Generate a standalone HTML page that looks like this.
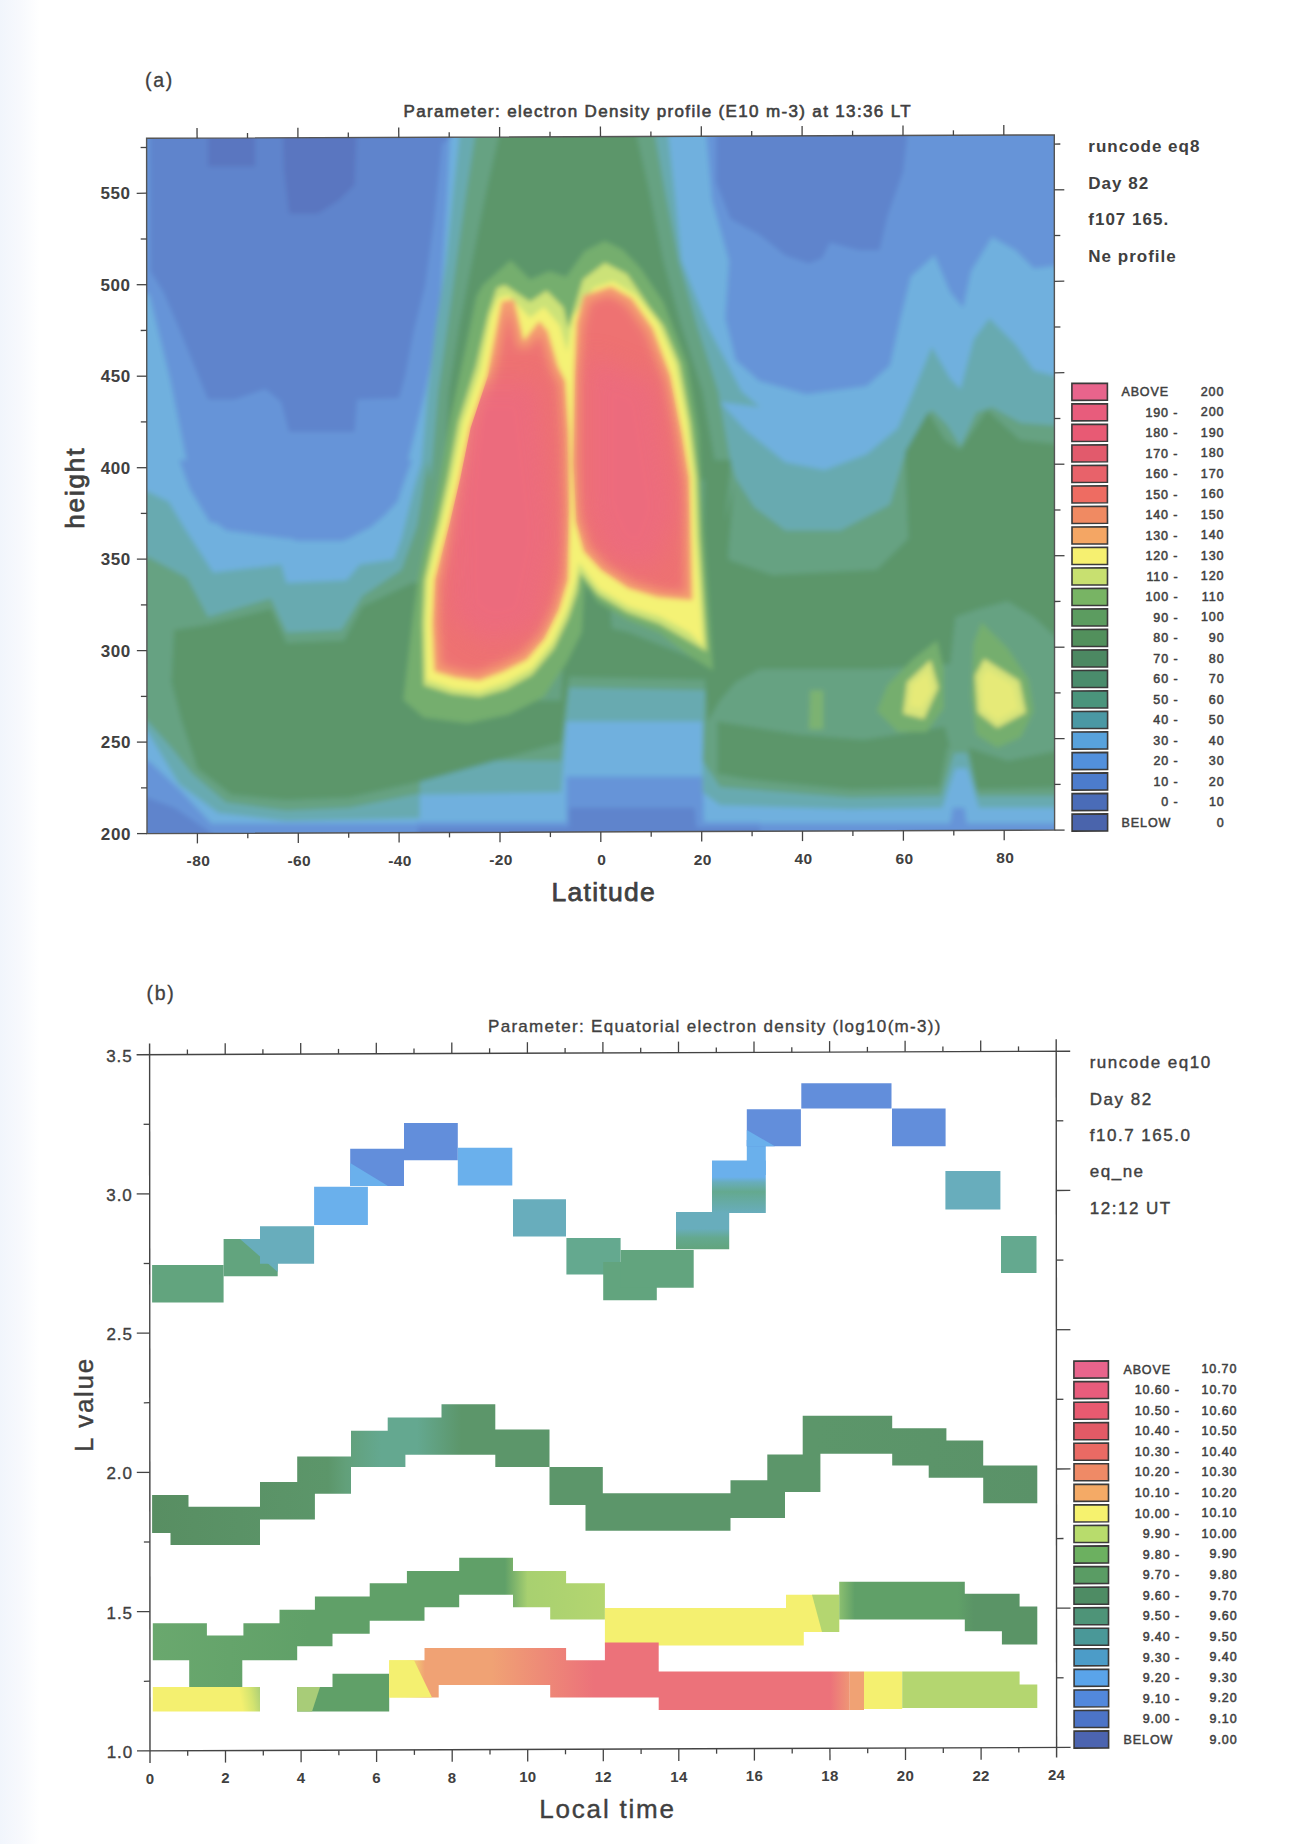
<!DOCTYPE html><html><head><meta charset="utf-8"><style>html,body{margin:0;padding:0;background:#fff;}body{width:1300px;height:1844px;overflow:hidden;}svg{display:block;}text{font-family:"Liberation Sans", sans-serif;}</style></head><body>
<svg width="1300" height="1844" viewBox="0 0 1300 1844">
<defs><linearGradient id="lm" x1="0" y1="0" x2="1" y2="0"><stop offset="0" stop-color="#f1f5fc"/><stop offset="0.5" stop-color="#f7f9fd"/><stop offset="1" stop-color="#ffffff"/></linearGradient></defs>
<rect x="0" y="0" width="1300" height="1844" fill="#ffffff"/>
<rect x="0" y="0" width="40" height="1844" fill="url(#lm)"/>
<defs><clipPath id="ca"><polygon points="146.6,138.3 1054.3,134.9 1054.6,830.1 147,833.6"/></clipPath><clipPath id="cb"><polygon points="149.6,1054.6 1056.2,1051.2 1056.6,1747.4 150,1750.9"/></clipPath></defs>
<g clip-path="url(#ca)">
<defs><filter id="bl" x="-30%" y="-30%" width="160%" height="160%"><feGaussianBlur stdDeviation="12"/></filter><filter id="inner" x="-5%" y="-5%" width="110%" height="110%"><feMorphology operator="erode" radius="5"/><feGaussianBlur stdDeviation="4"/></filter><filter id="soft" x="-2%" y="-2%" width="104%" height="104%"><feGaussianBlur stdDeviation="2.5"/></filter></defs>
<g filter="url(#soft)">
<rect x="130" y="120" width="945" height="730" fill="#70b0de"/>
<polygon points="130,120 462,120 450,137 447,200 443,264 438,329 425,393 412,445 398,501 385,515 371,527 343,541 297,541 278,534 209,522 186,458 170,379 149,294 130,294" fill="#6694d8"/>
<polygon points="179.2,460 189.7,488.8 205.4,514.9 226.3,530.6 286.5,538.5 349.2,538.5 375.4,522.8 398.9,496.6 412,460" fill="#6694d8"/>
<polygon points="705,120 1075,120 1075,265 1054.8,266 1033.8,268.6 1015.5,250.3 992,237.2 971.1,271.2 963.2,307.8 950.2,292.2 934.5,255.5 910.9,276.5 900.5,318.3 890,365.4 866.5,386.3 806.3,394.2 759.2,381.1 735.7,360.2 725.2,318.3 729,261 712,200" fill="#6694d8"/>
<polygon points="126.9,823.5 480,823.5 480,852.3 126.9,852.3" fill="#6694d8"/>
<polygon points="127,755 150,762 180,790 210,822 230,840 127,840" fill="#6694d8"/>
<polygon points="417.4,822.2 760,822.2 760,852.3 417.4,852.3" fill="#6694d8"/>
<polygon points="566.5,776.5 702.5,776.5 705.1,852.3 566.5,852.3" fill="#6694d8"/>
<polygon points="717.4,823.5 1073.1,823.5 1073.1,852.3 717.4,852.3" fill="#6694d8"/>
<polygon points="952.8,807.8 964.5,807.8 971.1,852.3 944.9,852.3" fill="#6694d8"/>
<polygon points="150,120 455,120 450,137 442,144 434,221 425,286 414,330 405,376 399,398 357.1,399.4 354.5,432.1 289.1,432.1 281.2,402 265.5,388.9 234.2,399.4 208,399.4 179.2,328.8 163.5,292.2 150.5,271.2" fill="#5e84cc"/>
<polygon points="716.1,119.5 907,119.5 907,137.8 903.1,171.8 887.4,216.3 879.5,250.3 858.6,250.3 829.8,242.5 822,258.2 808.9,263.4 785.4,255.5 759.2,234.6 730.5,218.9 716.1,182.3" fill="#5e84cc"/>
<polygon points="127,790 175,808 210,832 215,840 127,840" fill="#5e84cc"/>
<polygon points="569.1,807.8 694.6,807.8 698.5,852.3 569.1,852.3" fill="#5e84cc"/>
<polygon points="417.4,827.5 760,827.5 760,852.3 417.4,852.3" fill="#5e84cc"/>
<polygon points="208,119.5 255.1,119.5 255.1,166.6 208,166.6" fill="#5a76c0"/>
<polygon points="282.5,119.5 357.1,119.5 354.5,184.9 338.8,200.6 317.8,213.7 289.1,213.7 283.8,169.2" fill="#5a76c0"/>
<polygon points="459.2,119.5 668.5,119.5 668.5,137.8 675,195.4 681.5,260.8 707.7,326.2 741.7,391.5 760,407.2 720,402 746.2,430.8 785.4,462.2 824.6,470 866.5,454.3 897.8,428.2 913.5,391.5 931.8,347.1 950.2,378.5 960.6,388.9 973.7,339.2 989.4,318.3 1015.5,344.5 1033.8,370.6 1054.8,375.8 1073.1,375.8 1073.1,807.8 978.9,807.8 967.2,768.6 955.4,768.6 942.3,807.8 850.8,809.2 720,805.2 702.5,792.2 702.5,721.5 566.5,721.5 561.2,792.2 420,794.8 419.8,818.3 286.5,820.9 218.5,813.1 179.2,784.3 147.8,732 126.9,729.4 126.9,491.4 147.8,491.4 168.8,501.8 184.5,528 213.2,572.5 281.2,564.6 286.5,582.9 346.6,580.3 359.7,564.6 393.7,559.4 401.5,538.5 414.6,486.2 422.5,460 420,479.9 427.8,391.5 435.7,326.2 446.2,260.8 452.7,195.4 459.2,137.8" fill="#68aab0"/>
<polygon points="474.9,119.5 655.4,119.5 655.4,137.8 665.8,195.4 678.9,260.8 697.2,326.2 718.2,391.5 733.8,479.9 730.5,460 735.7,478.3 754,507.1 785.4,530.6 840.3,530.6 890,504.5 903.1,460 910.9,443.8 931.8,409.8 947.5,425.5 960.6,446.5 976.3,412.5 992,407.2 1020.8,422.9 1054.8,425.5 1073.1,425.5 1073.1,796.1 977.6,796.1 967.2,752.9 954.1,752.9 941,796.1 850.8,797.4 720,786.9 702.5,760.8 705.1,690.2 569.1,687.5 561.2,760.8 420,760.8 419.8,793.5 349.2,807.8 286.5,810.5 226.3,802.6 192.3,773.8 171.4,747.7 147.8,721.5 126.9,718.9 126.9,556.8 147.8,556.8 187.1,577.7 208,616.9 270.8,598.6 286.5,632.6 341.4,630 362.3,596 401.5,569.8 417.2,525.4 427.7,460 430.5,479.9 438.3,391.5 447.5,326.2 456.6,260.8 465.8,195.4 474.9,137.8" fill="#66a282"/>
<polygon points="498.5,119.5 637.1,119.5 637.1,137.8 650.2,195.4 663.2,260.8 681.5,326.2 702.5,391.5 718.2,479.9 443.5,479.9 448.8,391.5 459.2,326.2 472.3,260.8 485.4,195.4 498.5,137.8" fill="#5c966a"/>
<polygon points="174,630 208,624.8 270.8,609.1 286.5,643.1 344,640.5 362.3,606.5 412,582.9 480,582.9 420,695.4 498.5,700.6 561.2,700.6 566.5,569.8 587.4,572.5 587.4,622.2 629.2,632.6 694.6,658.8 707.7,616.9 720.8,538.5 733.8,486.2 727.8,559.4 772.3,575.1 876.9,569.8 908.3,538.5 905,452 928,412 945,440 960,450 987,410 1020,440 1065,445 1073.1,653.5 1033.8,616.9 1007.7,601.2 978.9,609.1 955.4,616.9 950.2,664 876.9,669.2 798.5,669.2 759.2,669.2 735.7,682.3 720,700.6 707.7,721.5 705.1,679.7 569.1,677.1 561.2,742.5 419.8,781.7 349.2,797.4 286.5,800 231.5,794.8 197.5,768.6 181.8,721.5 171.4,682.3" fill="#5c966a"/>
<polygon points="717.4,721.5 798.5,734.6 863.8,739.8 944.9,726.8 950.2,747.7 968.5,747.7 1007.7,760.8 1073.1,747.7 1073.1,786.9 976.3,789.5 968.5,747.7 947.5,747.7 939.7,786.9 850.8,789.5 746.2,779.1 717.4,773.8" fill="#5c966a"/>
<polygon points="705.1,460 731.2,460 723.4,538.5 741.7,606.5 707.7,643.1 702.5,564.6" fill="#5c966a"/>
<polygon points="937.1,640.5 943.6,669.2 943.6,708.5 926.6,732 897.8,732 876.9,711.1 887.4,684.9 913.5,658.8" fill="#74ae6e"/>
<polygon points="981.5,622.2 1007.7,648.3 1028.6,679.7 1033.8,711.1 1020.8,737.2 997.2,747.7 976.3,734.6 971.1,695.4 973.7,643.1" fill="#74ae6e"/>
<polygon points="810.2,690.2 823.3,690.2 823.3,729.4 808.9,729.4" fill="#7cb272"/>
<polygon points="930.5,660.1 938.4,687.5 924,718.9 903.1,713.7 907,682.3" fill="#d8e47a"/>
<polygon points="927.9,671.8 931.8,690.2 921.4,708.5 909.6,705.8 912.2,684.9" fill="#e6ea78"/>
<polygon points="984.2,658.8 1019.5,681 1026,712.4 997.2,728.1 977.6,712.4 975,675.8" fill="#d8e47a"/>
<polygon points="986.8,669.2 1012.9,684.9 1018.2,708.5 997.2,720.2 982.8,708.5 981.5,679.7" fill="#e6ea78"/>
<polygon points="555.4,550.8 608,574.2 613.8,656 555.4,667.7" fill="#5c966a"/>
<polygon points="482.9,285.1 510.7,260.2 530,279.5 549.5,271.3 566.2,276.9 584.6,251.2 604.8,240.9 622.6,249.7 640.7,268.4 663,301.7 686.9,363.7 698.6,433.8 703,521.5 713.2,670.6 689.8,656 659.2,632.6 627,619.5 597.8,601.9 584.6,582.9 581.7,632.6 567.1,661.8 543.7,696.9 508.6,714.5 467.7,723.2 423.8,717.4 403.4,699.9 412.2,623.8 418,580 423.8,550.8 431.2,521.5 439.9,477.7 450.2,419.2 464.8,352 476.5,296.5" fill="#74ae6e"/>
<polygon points="496.9,287.7 505.1,285.1 530,301.7 546.6,290.6 563.3,307.3 568.5,328.6 582.9,279.5 604.8,262.8 627,274 649.2,307.3 663.5,325.7 679.6,363.7 690.4,422.2 697.2,477.7 699.2,536.2 706.8,651.6 689.8,641.4 659.2,623.8 627,612.2 597.8,594.6 580.2,572.7 577.3,591.7 568.5,618 553.9,648.7 532,675 505.7,689.6 479.4,696.9 451.6,694 423.8,685.2 422.4,623.8 424.4,580 430.9,550.8 438.2,521.5 447.8,477.7 458.3,422.2 475.9,366.6 488.2,314" fill="#cce278"/>
<polygon points="498.4,297.9 508.6,295 530,318.1 544,307 559.8,325.7 567.1,352 572.9,316.9 593.7,287.7 613,281.3 635.5,295 657.7,322.8 675.2,363.7 686.9,422.2 693.6,477.7 695.7,536.2 703,645.8 689.8,632.6 660.6,616.5 628.5,606.3 599.2,588.8 578.8,562.5 575.8,580 567.1,609.2 552.5,641.4 532,667.7 505.7,682.3 479.4,691.1 453.1,688.2 426.8,679.4 426.2,623.8 428.2,580 435,550.8 442.3,521.5 452.2,477.7 463.3,422.2 480.8,369.5 491.1,316.9" fill="#f4f274"/>
<polygon points="502.8,302.3 513,300.8 523.2,343.2 539.3,322.8 546.6,331.5 556.8,366.6 564.2,381.2 567.7,433.8 568.8,506.9 567.1,580 558.3,609.2 543.7,638.5 526.2,658.9 502.8,670.6 479.4,679.4 456,676.5 435.5,670.6 433.5,623.8 435.5,580 442.8,550.8 450.2,521.5 460.4,477.7 470.6,428 488.2,375.4 496.9,331.5" fill="#f4a070" stroke="#f4a070" stroke-width="2.5" stroke-linejoin="round"/>
<polygon points="584.6,296.5 610.9,287.7 631.4,299.4 651.8,328.6 669.4,375.4 681.1,433.8 688.4,477.7 689.8,536.2 691.3,599 657.7,596.1 628.5,587.3 602.2,569.8 584.6,550.8 576.4,521.5 573.5,463.1 575.3,375.4 577.6,322.8" fill="#f4a070" stroke="#f4a070" stroke-width="2.5" stroke-linejoin="round"/>
<g filter="url(#inner)">
<polygon points="502.8,302.3 513,300.8 523.2,343.2 539.3,322.8 546.6,331.5 556.8,366.6 564.2,381.2 567.7,433.8 568.8,506.9 567.1,580 558.3,609.2 543.7,638.5 526.2,658.9 502.8,670.6 479.4,679.4 456,676.5 435.5,670.6 433.5,623.8 435.5,580 442.8,550.8 450.2,521.5 460.4,477.7 470.6,428 488.2,375.4 496.9,331.5" fill="#ee7272"/>
<polygon points="584.6,296.5 610.9,287.7 631.4,299.4 651.8,328.6 669.4,375.4 681.1,433.8 688.4,477.7 689.8,536.2 691.3,599 657.7,596.1 628.5,587.3 602.2,569.8 584.6,550.8 576.4,521.5 573.5,463.1 575.3,375.4 577.6,322.8" fill="#ee7272"/>
</g>
</g>
<clipPath id="lobes"><polygon points="502.8,302.3 513.0,300.8 523.2,343.2 539.3,322.8 546.6,331.5 556.8,366.6 564.2,381.2 567.7,433.8 568.8,506.9 567.1,580.0 558.3,609.2 543.7,638.5 526.2,658.9 502.8,670.6 479.4,679.4 456.0,676.5 435.5,670.6 433.5,623.8 435.5,580.0 442.8,550.8 450.2,521.5 460.4,477.7 470.6,428.0 488.2,375.4 496.9,331.5"/><polygon points="584.6,296.5 610.9,287.7 631.4,299.4 651.8,328.6 669.4,375.4 681.1,433.8 688.4,477.7 689.8,536.2 691.3,599.0 657.7,596.1 628.5,587.3 602.2,569.8 584.6,550.8 576.4,521.5 573.5,463.1 575.3,375.4 577.6,322.8"/></clipPath>
<g clip-path="url(#lobes)">
<polygon points="459.2,381.5 537.7,381.5 556,538.5 537.7,630 485.4,643.1 451.4,616.9 448.8,512.3" fill="#ec6a80" filter="url(#bl)" opacity="0.8"/>
<polygon points="587.4,355.4 655.4,381.5 676.3,512.3 655.4,569.8 608.3,559.4 587.4,512.3" fill="#ec6a80" filter="url(#bl)" opacity="0.8"/>
</g>
</g>
<polygon points="146.6,138.3 1054.3,134.9 1054.6,830.1 147,833.6" fill="none" stroke="#555" stroke-width="1.4"/>
<line x1="137" y1="833.6" x2="147" y2="833.6" stroke="#444" stroke-width="1.3"/>
<line x1="1054.6" y1="830.1" x2="1064.6" y2="830.1" stroke="#444" stroke-width="1.3"/>
<text x="131" y="839.6" font-size="17" text-anchor="end" font-weight="bold" letter-spacing="0.6" fill="#404040">200</text>
<line x1="141" y1="787.9" x2="147" y2="787.8" stroke="#444" stroke-width="1.3"/>
<line x1="1054.6" y1="784.4" x2="1060.6" y2="784.4" stroke="#444" stroke-width="1.3"/>
<line x1="136.9" y1="742.1" x2="146.9" y2="742.1" stroke="#444" stroke-width="1.3"/>
<line x1="1054.6" y1="738.7" x2="1064.6" y2="738.6" stroke="#444" stroke-width="1.3"/>
<text x="131" y="748.2" font-size="17" text-anchor="end" font-weight="bold" letter-spacing="0.6" fill="#404040">250</text>
<line x1="140.9" y1="696.4" x2="146.9" y2="696.4" stroke="#444" stroke-width="1.3"/>
<line x1="1054.6" y1="692.9" x2="1060.6" y2="692.9" stroke="#444" stroke-width="1.3"/>
<line x1="136.9" y1="650.7" x2="146.9" y2="650.6" stroke="#444" stroke-width="1.3"/>
<line x1="1054.5" y1="647.2" x2="1064.5" y2="647.2" stroke="#444" stroke-width="1.3"/>
<text x="130.9" y="656.7" font-size="17" text-anchor="end" font-weight="bold" letter-spacing="0.6" fill="#404040">300</text>
<line x1="140.9" y1="604.9" x2="146.9" y2="604.9" stroke="#444" stroke-width="1.3"/>
<line x1="1054.5" y1="601.5" x2="1060.5" y2="601.4" stroke="#444" stroke-width="1.3"/>
<line x1="136.9" y1="559.2" x2="146.8" y2="559.1" stroke="#444" stroke-width="1.3"/>
<line x1="1054.5" y1="555.7" x2="1064.5" y2="555.7" stroke="#444" stroke-width="1.3"/>
<text x="130.9" y="565.2" font-size="17" text-anchor="end" font-weight="bold" letter-spacing="0.6" fill="#404040">350</text>
<line x1="140.8" y1="513.4" x2="146.8" y2="513.4" stroke="#444" stroke-width="1.3"/>
<line x1="1054.5" y1="510" x2="1060.5" y2="510" stroke="#444" stroke-width="1.3"/>
<line x1="136.8" y1="467.7" x2="146.8" y2="467.7" stroke="#444" stroke-width="1.3"/>
<line x1="1054.4" y1="464.2" x2="1064.4" y2="464.2" stroke="#444" stroke-width="1.3"/>
<text x="130.8" y="473.7" font-size="17" text-anchor="end" font-weight="bold" letter-spacing="0.6" fill="#404040">400</text>
<line x1="140.8" y1="421.9" x2="146.8" y2="421.9" stroke="#444" stroke-width="1.3"/>
<line x1="1054.4" y1="418.5" x2="1060.4" y2="418.5" stroke="#444" stroke-width="1.3"/>
<line x1="136.8" y1="376.2" x2="146.8" y2="376.2" stroke="#444" stroke-width="1.3"/>
<line x1="1054.4" y1="372.8" x2="1064.4" y2="372.7" stroke="#444" stroke-width="1.3"/>
<text x="130.8" y="382.2" font-size="17" text-anchor="end" font-weight="bold" letter-spacing="0.6" fill="#404040">450</text>
<line x1="140.7" y1="330.5" x2="146.7" y2="330.4" stroke="#444" stroke-width="1.3"/>
<line x1="1054.4" y1="327" x2="1060.4" y2="327" stroke="#444" stroke-width="1.3"/>
<line x1="136.7" y1="284.7" x2="146.7" y2="284.7" stroke="#444" stroke-width="1.3"/>
<line x1="1054.3" y1="281.3" x2="1064.3" y2="281.2" stroke="#444" stroke-width="1.3"/>
<text x="130.7" y="290.8" font-size="17" text-anchor="end" font-weight="bold" letter-spacing="0.6" fill="#404040">500</text>
<line x1="140.7" y1="239" x2="146.7" y2="239" stroke="#444" stroke-width="1.3"/>
<line x1="1054.3" y1="235.5" x2="1060.3" y2="235.5" stroke="#444" stroke-width="1.3"/>
<line x1="136.7" y1="193.3" x2="146.7" y2="193.2" stroke="#444" stroke-width="1.3"/>
<line x1="1054.3" y1="189.8" x2="1064.3" y2="189.8" stroke="#444" stroke-width="1.3"/>
<text x="130.7" y="199.3" font-size="17" text-anchor="end" font-weight="bold" letter-spacing="0.6" fill="#404040">550</text>
<line x1="140.6" y1="147.5" x2="146.6" y2="147.5" stroke="#444" stroke-width="1.3"/>
<line x1="1054.3" y1="144.1" x2="1060.3" y2="144" stroke="#444" stroke-width="1.3"/>
<line x1="197" y1="128.1" x2="197.1" y2="138.2" stroke="#444" stroke-width="1.3"/>
<line x1="197.4" y1="833.4" x2="197.4" y2="843.4" stroke="#444" stroke-width="1.3"/>
<text x="198.4" y="866.4" font-size="15.5" text-anchor="middle" font-weight="bold" letter-spacing="0.4" fill="#404040">-80</text>
<line x1="247.5" y1="133" x2="247.5" y2="138" stroke="#444" stroke-width="1.3"/>
<line x1="247.8" y1="833.2" x2="247.8" y2="838.2" stroke="#444" stroke-width="1.3"/>
<line x1="297.9" y1="127.8" x2="297.9" y2="137.8" stroke="#444" stroke-width="1.3"/>
<line x1="298.3" y1="833" x2="298.3" y2="843" stroke="#444" stroke-width="1.3"/>
<text x="299.3" y="866" font-size="15.5" text-anchor="middle" font-weight="bold" letter-spacing="0.4" fill="#404040">-60</text>
<line x1="348.3" y1="132.6" x2="348.3" y2="137.6" stroke="#444" stroke-width="1.3"/>
<line x1="348.7" y1="832.8" x2="348.7" y2="837.8" stroke="#444" stroke-width="1.3"/>
<line x1="398.7" y1="127.4" x2="398.8" y2="137.4" stroke="#444" stroke-width="1.3"/>
<line x1="399.1" y1="832.6" x2="399.1" y2="842.6" stroke="#444" stroke-width="1.3"/>
<text x="400.1" y="865.6" font-size="15.5" text-anchor="middle" font-weight="bold" letter-spacing="0.4" fill="#404040">-40</text>
<line x1="449.2" y1="132.2" x2="449.2" y2="137.2" stroke="#444" stroke-width="1.3"/>
<line x1="449.5" y1="832.4" x2="449.5" y2="837.4" stroke="#444" stroke-width="1.3"/>
<line x1="499.6" y1="127" x2="499.6" y2="137" stroke="#444" stroke-width="1.3"/>
<line x1="500" y1="832.2" x2="500" y2="842.2" stroke="#444" stroke-width="1.3"/>
<text x="501" y="865.2" font-size="15.5" text-anchor="middle" font-weight="bold" letter-spacing="0.4" fill="#404040">-20</text>
<line x1="550" y1="131.8" x2="550" y2="136.8" stroke="#444" stroke-width="1.3"/>
<line x1="550.4" y1="832" x2="550.4" y2="837.1" stroke="#444" stroke-width="1.3"/>
<line x1="600.4" y1="126.6" x2="600.5" y2="136.6" stroke="#444" stroke-width="1.3"/>
<line x1="600.8" y1="831.9" x2="600.8" y2="841.9" stroke="#444" stroke-width="1.3"/>
<text x="601.8" y="864.9" font-size="15.5" text-anchor="middle" font-weight="bold" letter-spacing="0.4" fill="#404040">0</text>
<line x1="650.9" y1="131.4" x2="650.9" y2="136.4" stroke="#444" stroke-width="1.3"/>
<line x1="651.2" y1="831.7" x2="651.2" y2="836.7" stroke="#444" stroke-width="1.3"/>
<line x1="701.3" y1="126.2" x2="701.3" y2="136.2" stroke="#444" stroke-width="1.3"/>
<line x1="701.7" y1="831.5" x2="701.7" y2="841.5" stroke="#444" stroke-width="1.3"/>
<text x="702.7" y="864.5" font-size="15.5" text-anchor="middle" font-weight="bold" letter-spacing="0.4" fill="#404040">20</text>
<line x1="751.7" y1="131.1" x2="751.7" y2="136.1" stroke="#444" stroke-width="1.3"/>
<line x1="752.1" y1="831.3" x2="752.1" y2="836.3" stroke="#444" stroke-width="1.3"/>
<line x1="802.1" y1="125.9" x2="802.1" y2="135.9" stroke="#444" stroke-width="1.3"/>
<line x1="802.5" y1="831.1" x2="802.5" y2="841.1" stroke="#444" stroke-width="1.3"/>
<text x="803.5" y="864.1" font-size="15.5" text-anchor="middle" font-weight="bold" letter-spacing="0.4" fill="#404040">40</text>
<line x1="852.6" y1="130.7" x2="852.6" y2="135.7" stroke="#444" stroke-width="1.3"/>
<line x1="852.9" y1="830.9" x2="852.9" y2="835.9" stroke="#444" stroke-width="1.3"/>
<line x1="903" y1="125.5" x2="903" y2="135.5" stroke="#444" stroke-width="1.3"/>
<line x1="903.4" y1="830.7" x2="903.4" y2="840.7" stroke="#444" stroke-width="1.3"/>
<text x="904.4" y="863.7" font-size="15.5" text-anchor="middle" font-weight="bold" letter-spacing="0.4" fill="#404040">60</text>
<line x1="953.4" y1="130.3" x2="953.4" y2="135.3" stroke="#444" stroke-width="1.3"/>
<line x1="953.8" y1="830.5" x2="953.8" y2="835.5" stroke="#444" stroke-width="1.3"/>
<line x1="1003.8" y1="125.1" x2="1003.8" y2="135.1" stroke="#444" stroke-width="1.3"/>
<line x1="1004.2" y1="830.3" x2="1004.2" y2="840.3" stroke="#444" stroke-width="1.3"/>
<text x="1005.2" y="863.3" font-size="15.5" text-anchor="middle" font-weight="bold" letter-spacing="0.4" fill="#404040">80</text>
<text x="403.5" y="116.9" font-size="17" text-anchor="start" font-weight="normal" letter-spacing="1.35" fill="#404040" stroke="#404040" stroke-width="0.6">Parameter: electron Density profile (E10 m-3) at 13:36 LT</text>
<text x="145.1" y="86.8" font-size="19.5" text-anchor="start" font-weight="normal" letter-spacing="1.6" fill="#404040" stroke="#404040" stroke-width="0.3">(a)</text>
<text x="551.4" y="900.6" font-size="26.5" text-anchor="start" font-weight="normal" letter-spacing="1.3" fill="#404040" stroke="#404040" stroke-width="0.75">Latitude</text>
<text x="83.8" y="487.7" font-size="26" text-anchor="middle" font-weight="normal" letter-spacing="1.85" fill="#404040" transform="rotate(-90 83.8 487.7)" stroke="#404040" stroke-width="0.75">height</text>
<text x="1088.3" y="152.3" font-size="17" text-anchor="start" font-weight="bold" letter-spacing="1.0" fill="#404040">runcode eq8</text>
<text x="1088.3" y="188.7" font-size="17" text-anchor="start" font-weight="bold" letter-spacing="1.0" fill="#404040">Day 82</text>
<text x="1088.3" y="225.1" font-size="17" text-anchor="start" font-weight="bold" letter-spacing="1.0" fill="#404040">f107 165.</text>
<text x="1088.3" y="261.5" font-size="17" text-anchor="start" font-weight="bold" letter-spacing="1.0" fill="#404040">Ne profile</text>
<polygon points="1071.9,383.4 1107.4,383.3 1107.4,400.3 1071.9,400.4" fill="#e8648c" stroke="#3a3a3a" stroke-width="1.6"/>
<text x="1121.4" y="396.3" font-size="12.5" text-anchor="start" font-weight="normal" letter-spacing="0.9" fill="#404040" stroke="#404040" stroke-width="0.5">ABOVE</text>
<text x="1224.3" y="395.9" font-size="12.5" text-anchor="end" font-weight="normal" letter-spacing="0.9" fill="#404040" stroke="#404040" stroke-width="0.5">200</text>
<polygon points="1071.9,403.9 1107.4,403.8 1107.4,420.8 1071.9,420.9" fill="#e85c7c" stroke="#3a3a3a" stroke-width="1.6"/>
<text x="1178.4" y="416.5" font-size="12.5" text-anchor="end" font-weight="normal" letter-spacing="0.9" fill="#404040" stroke="#404040" stroke-width="0.5">190 -</text>
<text x="1224.4" y="416.4" font-size="12.5" text-anchor="end" font-weight="normal" letter-spacing="0.9" fill="#404040" stroke="#404040" stroke-width="0.5">200</text>
<polygon points="1071.9,424.4 1107.4,424.3 1107.4,441.3 1071.9,441.5" fill="#e85a74" stroke="#3a3a3a" stroke-width="1.6"/>
<text x="1178.4" y="437.1" font-size="12.5" text-anchor="end" font-weight="normal" letter-spacing="0.9" fill="#404040" stroke="#404040" stroke-width="0.5">180 -</text>
<text x="1224.4" y="436.9" font-size="12.5" text-anchor="end" font-weight="normal" letter-spacing="0.9" fill="#404040" stroke="#404040" stroke-width="0.5">190</text>
<polygon points="1071.9,445 1107.4,444.8 1107.4,461.8 1071.9,462" fill="#e25a6c" stroke="#3a3a3a" stroke-width="1.6"/>
<text x="1178.4" y="457.6" font-size="12.5" text-anchor="end" font-weight="normal" letter-spacing="0.9" fill="#404040" stroke="#404040" stroke-width="0.5">170 -</text>
<text x="1224.4" y="457.4" font-size="12.5" text-anchor="end" font-weight="normal" letter-spacing="0.9" fill="#404040" stroke="#404040" stroke-width="0.5">180</text>
<polygon points="1071.9,465.5 1107.4,465.3 1107.4,482.3 1071.9,482.5" fill="#e8626a" stroke="#3a3a3a" stroke-width="1.6"/>
<text x="1178.4" y="478.1" font-size="12.5" text-anchor="end" font-weight="normal" letter-spacing="0.9" fill="#404040" stroke="#404040" stroke-width="0.5">160 -</text>
<text x="1224.4" y="477.9" font-size="12.5" text-anchor="end" font-weight="normal" letter-spacing="0.9" fill="#404040" stroke="#404040" stroke-width="0.5">170</text>
<polygon points="1071.9,486 1107.4,485.8 1107.4,502.8 1072,503" fill="#ee6c62" stroke="#3a3a3a" stroke-width="1.6"/>
<text x="1178.4" y="498.6" font-size="12.5" text-anchor="end" font-weight="normal" letter-spacing="0.9" fill="#404040" stroke="#404040" stroke-width="0.5">150 -</text>
<text x="1224.4" y="498.4" font-size="12.5" text-anchor="end" font-weight="normal" letter-spacing="0.9" fill="#404040" stroke="#404040" stroke-width="0.5">160</text>
<polygon points="1072,506.5 1107.4,506.3 1107.5,523.3 1072,523.5" fill="#f08a62" stroke="#3a3a3a" stroke-width="1.6"/>
<text x="1178.4" y="519.1" font-size="12.5" text-anchor="end" font-weight="normal" letter-spacing="0.9" fill="#404040" stroke="#404040" stroke-width="0.5">140 -</text>
<text x="1224.4" y="518.9" font-size="12.5" text-anchor="end" font-weight="normal" letter-spacing="0.9" fill="#404040" stroke="#404040" stroke-width="0.5">150</text>
<polygon points="1072,527 1107.5,526.8 1107.5,543.9 1072,544" fill="#f4a664" stroke="#3a3a3a" stroke-width="1.6"/>
<text x="1178.4" y="539.6" font-size="12.5" text-anchor="end" font-weight="normal" letter-spacing="0.9" fill="#404040" stroke="#404040" stroke-width="0.5">130 -</text>
<text x="1224.4" y="539.4" font-size="12.5" text-anchor="end" font-weight="normal" letter-spacing="0.9" fill="#404040" stroke="#404040" stroke-width="0.5">140</text>
<polygon points="1072,547.5 1107.5,547.4 1107.5,564.4 1072,564.5" fill="#f6f070" stroke="#3a3a3a" stroke-width="1.6"/>
<text x="1178.4" y="560.1" font-size="12.5" text-anchor="end" font-weight="normal" letter-spacing="0.9" fill="#404040" stroke="#404040" stroke-width="0.5">120 -</text>
<text x="1224.4" y="559.9" font-size="12.5" text-anchor="end" font-weight="normal" letter-spacing="0.9" fill="#404040" stroke="#404040" stroke-width="0.5">130</text>
<polygon points="1072,568 1107.5,567.9 1107.5,584.9 1072,585" fill="#c8e070" stroke="#3a3a3a" stroke-width="1.6"/>
<text x="1178.5" y="580.6" font-size="12.5" text-anchor="end" font-weight="normal" letter-spacing="0.9" fill="#404040" stroke="#404040" stroke-width="0.5">110 -</text>
<text x="1224.4" y="580.4" font-size="12.5" text-anchor="end" font-weight="normal" letter-spacing="0.9" fill="#404040" stroke="#404040" stroke-width="0.5">120</text>
<polygon points="1072,588.5 1107.5,588.4 1107.5,605.4 1072,605.5" fill="#78b464" stroke="#3a3a3a" stroke-width="1.6"/>
<text x="1178.5" y="601.1" font-size="12.5" text-anchor="end" font-weight="normal" letter-spacing="0.9" fill="#404040" stroke="#404040" stroke-width="0.5">100 -</text>
<text x="1224.5" y="600.9" font-size="12.5" text-anchor="end" font-weight="normal" letter-spacing="0.9" fill="#404040" stroke="#404040" stroke-width="0.5">110</text>
<polygon points="1072,609 1107.5,608.9 1107.5,625.9 1072,626" fill="#5c9c60" stroke="#3a3a3a" stroke-width="1.6"/>
<text x="1178.5" y="621.6" font-size="12.5" text-anchor="end" font-weight="normal" letter-spacing="0.9" fill="#404040" stroke="#404040" stroke-width="0.5">90 -</text>
<text x="1224.5" y="621.4" font-size="12.5" text-anchor="end" font-weight="normal" letter-spacing="0.9" fill="#404040" stroke="#404040" stroke-width="0.5">100</text>
<polygon points="1072,629.5 1107.5,629.4 1107.5,646.4 1072,646.5" fill="#52905c" stroke="#3a3a3a" stroke-width="1.6"/>
<text x="1178.5" y="642.1" font-size="12.5" text-anchor="end" font-weight="normal" letter-spacing="0.9" fill="#404040" stroke="#404040" stroke-width="0.5">80 -</text>
<text x="1224.5" y="641.9" font-size="12.5" text-anchor="end" font-weight="normal" letter-spacing="0.9" fill="#404040" stroke="#404040" stroke-width="0.5">90</text>
<polygon points="1072,650 1107.5,649.9 1107.5,666.9 1072,667" fill="#4c8862" stroke="#3a3a3a" stroke-width="1.6"/>
<text x="1178.5" y="662.6" font-size="12.5" text-anchor="end" font-weight="normal" letter-spacing="0.9" fill="#404040" stroke="#404040" stroke-width="0.5">70 -</text>
<text x="1224.5" y="662.5" font-size="12.5" text-anchor="end" font-weight="normal" letter-spacing="0.9" fill="#404040" stroke="#404040" stroke-width="0.5">80</text>
<polygon points="1072,670.5 1107.5,670.4 1107.5,687.4 1072.1,687.5" fill="#4a8c6c" stroke="#3a3a3a" stroke-width="1.6"/>
<text x="1178.5" y="683.1" font-size="12.5" text-anchor="end" font-weight="normal" letter-spacing="0.9" fill="#404040" stroke="#404040" stroke-width="0.5">60 -</text>
<text x="1224.5" y="683" font-size="12.5" text-anchor="end" font-weight="normal" letter-spacing="0.9" fill="#404040" stroke="#404040" stroke-width="0.5">70</text>
<polygon points="1072.1,691 1107.5,690.9 1107.6,707.9 1072.1,708" fill="#4a947c" stroke="#3a3a3a" stroke-width="1.6"/>
<text x="1178.5" y="703.6" font-size="12.5" text-anchor="end" font-weight="normal" letter-spacing="0.9" fill="#404040" stroke="#404040" stroke-width="0.5">50 -</text>
<text x="1224.5" y="703.5" font-size="12.5" text-anchor="end" font-weight="normal" letter-spacing="0.9" fill="#404040" stroke="#404040" stroke-width="0.5">60</text>
<polygon points="1072.1,711.5 1107.6,711.4 1107.6,728.4 1072.1,728.5" fill="#4a98a4" stroke="#3a3a3a" stroke-width="1.6"/>
<text x="1178.5" y="724.1" font-size="12.5" text-anchor="end" font-weight="normal" letter-spacing="0.9" fill="#404040" stroke="#404040" stroke-width="0.5">40 -</text>
<text x="1224.5" y="724" font-size="12.5" text-anchor="end" font-weight="normal" letter-spacing="0.9" fill="#404040" stroke="#404040" stroke-width="0.5">50</text>
<polygon points="1072.1,732 1107.6,731.9 1107.6,748.9 1072.1,749.1" fill="#58a2dc" stroke="#3a3a3a" stroke-width="1.6"/>
<text x="1178.5" y="744.7" font-size="12.5" text-anchor="end" font-weight="normal" letter-spacing="0.9" fill="#404040" stroke="#404040" stroke-width="0.5">30 -</text>
<text x="1224.5" y="744.5" font-size="12.5" text-anchor="end" font-weight="normal" letter-spacing="0.9" fill="#404040" stroke="#404040" stroke-width="0.5">40</text>
<polygon points="1072.1,752.6 1107.6,752.4 1107.6,769.4 1072.1,769.6" fill="#5290dc" stroke="#3a3a3a" stroke-width="1.6"/>
<text x="1178.6" y="765.2" font-size="12.5" text-anchor="end" font-weight="normal" letter-spacing="0.9" fill="#404040" stroke="#404040" stroke-width="0.5">20 -</text>
<text x="1224.5" y="765" font-size="12.5" text-anchor="end" font-weight="normal" letter-spacing="0.9" fill="#404040" stroke="#404040" stroke-width="0.5">30</text>
<polygon points="1072.1,773.1 1107.6,772.9 1107.6,789.9 1072.1,790.1" fill="#4c7ccc" stroke="#3a3a3a" stroke-width="1.6"/>
<text x="1178.6" y="785.7" font-size="12.5" text-anchor="end" font-weight="normal" letter-spacing="0.9" fill="#404040" stroke="#404040" stroke-width="0.5">10 -</text>
<text x="1224.5" y="785.5" font-size="12.5" text-anchor="end" font-weight="normal" letter-spacing="0.9" fill="#404040" stroke="#404040" stroke-width="0.5">20</text>
<polygon points="1072.1,793.6 1107.6,793.4 1107.6,810.4 1072.1,810.6" fill="#4a6cb8" stroke="#3a3a3a" stroke-width="1.6"/>
<text x="1178.6" y="806.2" font-size="12.5" text-anchor="end" font-weight="normal" letter-spacing="0.9" fill="#404040" stroke="#404040" stroke-width="0.5">0 -</text>
<text x="1224.6" y="806" font-size="12.5" text-anchor="end" font-weight="normal" letter-spacing="0.9" fill="#404040" stroke="#404040" stroke-width="0.5">10</text>
<polygon points="1072.1,814.1 1107.6,813.9 1107.6,830.9 1072.1,831.1" fill="#4a64ac" stroke="#3a3a3a" stroke-width="1.6"/>
<text x="1121.6" y="826.9" font-size="12.5" text-anchor="start" font-weight="normal" letter-spacing="0.9" fill="#404040" stroke="#404040" stroke-width="0.5">BELOW</text>
<text x="1224.6" y="826.5" font-size="12.5" text-anchor="end" font-weight="normal" letter-spacing="0.9" fill="#404040" stroke="#404040" stroke-width="0.5">0</text>
<g clip-path="url(#cb)">
<defs>
<linearGradient id="g_b2" gradientUnits="userSpaceOnUse" x1="230" y1="1276" x2="270" y2="1239"><stop offset="0" stop-color="#62a47e"/><stop offset="0.55" stop-color="#62a47e"/><stop offset="0.75" stop-color="#68adbc"/><stop offset="1" stop-color="#68adbc"/></linearGradient>
<linearGradient id="g_b5" gradientUnits="userSpaceOnUse" x1="350" y1="1186" x2="404" y2="1149"><stop offset="0" stop-color="#6ab0ec"/><stop offset="0.4" stop-color="#6ab0ec"/><stop offset="0.55" stop-color="#628edb"/><stop offset="1" stop-color="#628edb"/></linearGradient>
<linearGradient id="g_b12" gradientUnits="userSpaceOnUse" x1="0" y1="1212" x2="0" y2="1249"><stop offset="0" stop-color="#68adbc"/><stop offset="0.45" stop-color="#68adbc"/><stop offset="0.7" stop-color="#64a98f"/><stop offset="1" stop-color="#62a47e"/></linearGradient>
<linearGradient id="g_b13" gradientUnits="userSpaceOnUse" x1="0" y1="1160" x2="0" y2="1213"><stop offset="0" stop-color="#6ab0ec"/><stop offset="0.32" stop-color="#6ab0ec"/><stop offset="0.42" stop-color="#68adbc"/><stop offset="0.6" stop-color="#64a98f"/><stop offset="1" stop-color="#68adbc"/></linearGradient>
<linearGradient id="g_b14" gradientUnits="userSpaceOnUse" x1="747" y1="1146" x2="801" y2="1109"><stop offset="0" stop-color="#6ab0ec"/><stop offset="0.3" stop-color="#6ab0ec"/><stop offset="0.5" stop-color="#628edb"/><stop offset="1" stop-color="#628edb"/></linearGradient>
<linearGradient id="g_r2" gradientUnits="userSpaceOnUse" x1="150" y1="0" x2="1040" y2="0"><stop offset="0" stop-color="#588e62"/><stop offset="0.2" stop-color="#5c966a"/><stop offset="0.22" stop-color="#62a07a"/><stop offset="0.26" stop-color="#64a890"/><stop offset="0.3" stop-color="#64a890"/><stop offset="0.35" stop-color="#5c966a"/><stop offset="0.75" stop-color="#5c966a"/><stop offset="1" stop-color="#5a9268"/></linearGradient>
<linearGradient id="g_r3" gradientUnits="userSpaceOnUse" x1="150" y1="0" x2="605" y2="0"><stop offset="0" stop-color="#6aa86e"/><stop offset="0.35" stop-color="#60a068"/><stop offset="0.78" stop-color="#60a068"/><stop offset="0.83" stop-color="#a8d070"/><stop offset="1" stop-color="#b4d670"/></linearGradient>
<linearGradient id="g_r3r" gradientUnits="userSpaceOnUse" x1="839" y1="0" x2="1037" y2="0"><stop offset="0" stop-color="#8cc070"/><stop offset="0.08" stop-color="#60a068"/><stop offset="0.6" stop-color="#60a068"/><stop offset="0.68" stop-color="#5a9466"/><stop offset="1" stop-color="#5a9466"/></linearGradient>
<linearGradient id="g_r4" gradientUnits="userSpaceOnUse" x1="389" y1="0" x2="902" y2="0"><stop offset="0" stop-color="#f4f070"/><stop offset="0.03" stop-color="#f4f070"/><stop offset="0.07" stop-color="#f0a274"/><stop offset="0.2" stop-color="#f0a274"/><stop offset="0.4" stop-color="#ec727a"/><stop offset="0.86" stop-color="#ec727a"/><stop offset="0.91" stop-color="#f0a274"/><stop offset="0.93" stop-color="#f4f070"/><stop offset="1" stop-color="#f4f070"/></linearGradient>
<linearGradient id="g_y4" gradientUnits="userSpaceOnUse" x1="152" y1="1712" x2="262" y2="1692"><stop offset="0" stop-color="#f4f070"/><stop offset="0.8" stop-color="#f4f070"/><stop offset="0.9" stop-color="#d4e470"/><stop offset="1" stop-color="#a8cc78"/></linearGradient>
</defs>
<polygon points="152.1,1264.9 223.6,1264.9 223.6,1302.4 152.1,1302.4" fill="#62a47e"/>
<polygon points="223.6,1239 277.7,1239 277.7,1276.2 223.6,1276.2" fill="#62a47e"/>
<polygon points="240,1239 277.7,1239 277.7,1272" fill="#68adbc"/>
<polygon points="260,1226.3 314.1,1226.3 314.1,1263.8 260,1263.8" fill="#68adbc"/>
<polygon points="314.1,1186.7 367.9,1186.7 367.9,1224.9 314.1,1224.9" fill="#6ab0ec"/>
<polygon points="350.2,1148.8 404,1148.8 404,1186 350.2,1186" fill="#628edb"/>
<polygon points="350.2,1163 350.2,1186 388,1186" fill="#6ab0ec"/>
<polygon points="404,1123 457.8,1123 457.8,1160.2 404,1160.2" fill="#628edb"/>
<polygon points="457.8,1147.8 512.3,1147.8 512.3,1185.6 457.8,1185.6" fill="#6ab0ec"/>
<polygon points="513,1199.3 566,1199.3 566,1236.6 513,1236.6" fill="#68adbc"/>
<polygon points="566.4,1237.9 620.6,1237.9 620.6,1274.6 566.4,1274.6" fill="#64a98f"/>
<polygon points="603.2,1262 656.8,1262 656.8,1300.3 603.2,1300.3" fill="#62a47e"/>
<polygon points="620.6,1250 693.7,1250 693.7,1287.8 620.6,1287.8" fill="#62a47e"/>
<polygon points="676,1212 729.2,1212 729.2,1249.2 676,1249.2" fill="url(#g_b12)"/>
<polygon points="712,1160.4 765.8,1160.4 765.8,1213 712,1213" fill="url(#g_b13)"/>
<polygon points="746.8,1140 765.8,1140 765.8,1175 746.8,1175" fill="#6ab0ec"/>
<polygon points="746.8,1109.3 800.9,1109.3 800.9,1146.2 746.8,1146.2" fill="#628edb"/>
<polygon points="746.8,1130 746.8,1146.2 775,1146.2" fill="#6ab0ec"/>
<polygon points="801.3,1083.2 891.5,1083.2 891.5,1108.6 801.3,1108.6" fill="#628edb"/>
<polygon points="892,1108.6 945.6,1108.6 945.6,1146.2 892,1146.2" fill="#628edb"/>
<polygon points="945.4,1171 1000.4,1171 1000.4,1209.6 945.4,1209.6" fill="#68adbc"/>
<polygon points="1001,1236 1036.5,1236 1036.5,1273 1001,1273" fill="#64a98f"/>
<polygon points="152.1,1495.1 188.5,1495.1 188.5,1506.8 260,1506.8 260,1482 297.2,1482 297.2,1456.5 351,1456.5 351,1430.7 387.7,1430.7 387.7,1417.6 441.5,1417.6 441.5,1404.2 495.3,1404.2 495.3,1429.6 549.5,1429.6 549.5,1467.1 602.8,1467.1 602.8,1493.3 730.5,1493.3 730.5,1480.2 767.3,1480.2 767.3,1454.4 802.7,1454.4 802.7,1415.8 892.2,1415.8 892.2,1428.2 946.4,1428.2 946.4,1440.6 983.2,1440.6 983.2,1465.4 1037.3,1465.4 1037.3,1503.2 983.2,1503.2 983.2,1477.8 928.7,1477.8 928.7,1465.4 892.2,1465.4 892.2,1453.7 820.4,1453.7 820.4,1491.9 785,1491.9 785,1518.1 730.5,1518.1 730.5,1530.8 585.5,1530.8 585.5,1505 549.5,1505 549.5,1467.1 495.3,1467.1 495.3,1454.8 405.4,1454.8 405.4,1467.1 351,1467.1 351,1493.7 314.9,1493.7 314.9,1519.5 260,1519.5 260,1545 170.5,1545 170.5,1533 152.1,1533" fill="url(#g_r2)"/>
<polygon points="152.8,1623.2 206.9,1623.2 206.9,1635.5 243.4,1635.5 243.4,1623.2 279.5,1623.2 279.5,1609.7 314.9,1609.7 314.9,1596.6 369.7,1596.6 369.7,1583.2 406.9,1583.2 406.9,1571.1 459.2,1571.1 459.2,1557.7 513,1557.7 513,1571.1 566.1,1571.1 566.1,1583.2 604.9,1583.2 604.9,1619.6 550.2,1619.6 550.2,1607.2 513,1607.2 513,1594.8 459.2,1594.8 459.2,1607.2 424.5,1607.2 424.5,1620.7 369.7,1620.7 369.7,1633.8 332.5,1633.8 332.5,1646.2 297.2,1646.2 297.2,1660.3 242.3,1660.3 242.3,1686.9 189.2,1686.9 189.2,1660.3 152.8,1660.3" fill="url(#g_r3)"/>
<polygon points="604.9,1607.9 786,1607.9 786,1594.8 839.2,1594.8 839.2,1632 803.8,1632 803.8,1645.5 604.9,1645.5" fill="#f4f070"/>
<polygon points="812,1594.8 839.2,1594.8 839.2,1632 822,1632" fill="#b4d670"/>
<polygon points="839.2,1581.8 964.8,1581.8 964.8,1593.8 1019.6,1593.8 1019.6,1606.5 1037.3,1606.5 1037.3,1644.4 1001.9,1644.4 1001.9,1631.3 964.8,1631.3 964.8,1619.6 839.2,1619.6" fill="url(#g_r3r)"/>
<polygon points="152.8,1686.9 260,1686.9 260,1711.6 152.8,1711.6" fill="url(#g_y4)"/>
<polygon points="297.2,1686.9 332.5,1686.9 332.5,1673.8 389.2,1673.8 389.2,1711.6 297.2,1711.6" fill="#60a068"/>
<polygon points="297.2,1686.9 320,1686.9 312,1711.6 297.2,1711.6" fill="#a8cc78"/>
<polygon points="389.2,1660.3 424.5,1660.3 424.5,1647.9 566.1,1647.9 566.1,1660.3 604.9,1660.3 604.9,1642.6 658.7,1642.6 658.7,1671.6 849.8,1671.6 849.8,1709.9 658.7,1709.9 658.7,1697.5 550.2,1697.5 550.2,1685.1 438.7,1685.1 438.7,1697.5 389.2,1697.5" fill="url(#g_r4)"/>
<polygon points="389.2,1660.3 414,1660.3 432,1697.5 389.2,1697.5" fill="#f4f070"/>
<polygon points="849.8,1671.6 864,1671.6 864,1709.9 849.8,1709.9" fill="#f0a274"/>
<polygon points="864,1671.6 902.2,1671.6 902.2,1709.1 864,1709.1" fill="#f4f070"/>
<polygon points="902.2,1671.6 1019.6,1671.6 1019.6,1684.4 1037.3,1684.4 1037.3,1708.1 902.2,1708.1" fill="#b4d670"/>
</g>
<line x1="149.6" y1="1043.6" x2="150" y2="1762.9" stroke="#444" stroke-width="1.4"/>
<line x1="1056.2" y1="1039.2" x2="1056.6" y2="1757.4" stroke="#444" stroke-width="1.4"/>
<line x1="136.6" y1="1054.7" x2="1070.2" y2="1051.2" stroke="#444" stroke-width="1.4"/>
<line x1="137" y1="1750.9" x2="1070.6" y2="1747.4" stroke="#444" stroke-width="1.4"/>
<text x="133" y="1757.9" font-size="17" text-anchor="end" font-weight="normal" letter-spacing="0.9" fill="#404040" stroke="#404040" stroke-width="0.35">1.0</text>
<line x1="143.9" y1="1681.3" x2="149.9" y2="1681.2" stroke="#444" stroke-width="1.3"/>
<line x1="1056.6" y1="1677.8" x2="1063.6" y2="1677.8" stroke="#444" stroke-width="1.3"/>
<line x1="136.9" y1="1611.7" x2="149.9" y2="1611.6" stroke="#444" stroke-width="1.3"/>
<line x1="1056.5" y1="1608.2" x2="1070.5" y2="1608.1" stroke="#444" stroke-width="1.3"/>
<text x="132.9" y="1618.7" font-size="17" text-anchor="end" font-weight="normal" letter-spacing="0.9" fill="#404040" stroke="#404040" stroke-width="0.35">1.5</text>
<line x1="143.9" y1="1542" x2="149.9" y2="1542" stroke="#444" stroke-width="1.3"/>
<line x1="1056.5" y1="1538.6" x2="1063.5" y2="1538.5" stroke="#444" stroke-width="1.3"/>
<line x1="136.8" y1="1472.4" x2="149.8" y2="1472.4" stroke="#444" stroke-width="1.3"/>
<line x1="1056.5" y1="1469" x2="1070.5" y2="1468.9" stroke="#444" stroke-width="1.3"/>
<text x="132.8" y="1479.4" font-size="17" text-anchor="end" font-weight="normal" letter-spacing="0.9" fill="#404040" stroke="#404040" stroke-width="0.35">2.0</text>
<line x1="143.8" y1="1402.8" x2="149.8" y2="1402.7" stroke="#444" stroke-width="1.3"/>
<line x1="1056.4" y1="1399.3" x2="1063.4" y2="1399.3" stroke="#444" stroke-width="1.3"/>
<line x1="136.8" y1="1333.2" x2="149.7" y2="1333.1" stroke="#444" stroke-width="1.3"/>
<line x1="1056.4" y1="1329.7" x2="1070.4" y2="1329.7" stroke="#444" stroke-width="1.3"/>
<text x="132.8" y="1340.2" font-size="17" text-anchor="end" font-weight="normal" letter-spacing="0.9" fill="#404040" stroke="#404040" stroke-width="0.35">2.5</text>
<line x1="143.7" y1="1263.5" x2="149.7" y2="1263.5" stroke="#444" stroke-width="1.3"/>
<line x1="1056.4" y1="1260.1" x2="1063.4" y2="1260.1" stroke="#444" stroke-width="1.3"/>
<line x1="136.7" y1="1193.9" x2="149.7" y2="1193.9" stroke="#444" stroke-width="1.3"/>
<line x1="1056.3" y1="1190.5" x2="1070.3" y2="1190.4" stroke="#444" stroke-width="1.3"/>
<text x="132.7" y="1200.9" font-size="17" text-anchor="end" font-weight="normal" letter-spacing="0.9" fill="#404040" stroke="#404040" stroke-width="0.35">3.0</text>
<line x1="143.6" y1="1124.3" x2="149.6" y2="1124.3" stroke="#444" stroke-width="1.3"/>
<line x1="1056.3" y1="1120.8" x2="1063.3" y2="1120.8" stroke="#444" stroke-width="1.3"/>
<text x="132.6" y="1061.7" font-size="17" text-anchor="end" font-weight="normal" letter-spacing="0.9" fill="#404040" stroke="#404040" stroke-width="0.35">3.5</text>
<text x="150" y="1783.7" font-size="15" text-anchor="middle" font-weight="bold" letter-spacing="0.3" fill="#404040">0</text>
<line x1="187.4" y1="1049.5" x2="187.4" y2="1054.5" stroke="#444" stroke-width="1.3"/>
<line x1="187.7" y1="1750.7" x2="187.7" y2="1755.7" stroke="#444" stroke-width="1.3"/>
<line x1="225.2" y1="1043.3" x2="225.2" y2="1054.3" stroke="#444" stroke-width="1.3"/>
<line x1="225.5" y1="1750.6" x2="225.5" y2="1762.6" stroke="#444" stroke-width="1.3"/>
<text x="225.5" y="1783.4" font-size="15" text-anchor="middle" font-weight="bold" letter-spacing="0.3" fill="#404040">2</text>
<line x1="262.9" y1="1049.2" x2="262.9" y2="1054.2" stroke="#444" stroke-width="1.3"/>
<line x1="263.3" y1="1750.4" x2="263.3" y2="1755.4" stroke="#444" stroke-width="1.3"/>
<line x1="300.7" y1="1043.1" x2="300.7" y2="1054.1" stroke="#444" stroke-width="1.3"/>
<line x1="301.1" y1="1750.3" x2="301.1" y2="1762.3" stroke="#444" stroke-width="1.3"/>
<text x="301.1" y="1783.1" font-size="15" text-anchor="middle" font-weight="bold" letter-spacing="0.3" fill="#404040">4</text>
<line x1="338.5" y1="1048.9" x2="338.5" y2="1053.9" stroke="#444" stroke-width="1.3"/>
<line x1="338.8" y1="1750.2" x2="338.9" y2="1755.2" stroke="#444" stroke-width="1.3"/>
<line x1="376.3" y1="1042.8" x2="376.3" y2="1053.8" stroke="#444" stroke-width="1.3"/>
<line x1="376.6" y1="1750" x2="376.6" y2="1762" stroke="#444" stroke-width="1.3"/>
<text x="376.6" y="1782.8" font-size="15" text-anchor="middle" font-weight="bold" letter-spacing="0.3" fill="#404040">6</text>
<line x1="414" y1="1048.6" x2="414" y2="1053.6" stroke="#444" stroke-width="1.3"/>
<line x1="414.4" y1="1749.9" x2="414.4" y2="1754.9" stroke="#444" stroke-width="1.3"/>
<line x1="451.8" y1="1042.5" x2="451.8" y2="1053.5" stroke="#444" stroke-width="1.3"/>
<line x1="452.2" y1="1749.7" x2="452.2" y2="1761.7" stroke="#444" stroke-width="1.3"/>
<text x="452.2" y="1782.5" font-size="15" text-anchor="middle" font-weight="bold" letter-spacing="0.3" fill="#404040">8</text>
<line x1="489.6" y1="1048.3" x2="489.6" y2="1053.4" stroke="#444" stroke-width="1.3"/>
<line x1="490" y1="1749.6" x2="490" y2="1754.6" stroke="#444" stroke-width="1.3"/>
<line x1="527.4" y1="1042.2" x2="527.4" y2="1053.2" stroke="#444" stroke-width="1.3"/>
<line x1="527.7" y1="1749.4" x2="527.7" y2="1761.4" stroke="#444" stroke-width="1.3"/>
<text x="527.8" y="1782.2" font-size="15" text-anchor="middle" font-weight="bold" letter-spacing="0.3" fill="#404040">10</text>
<line x1="565.1" y1="1048.1" x2="565.1" y2="1053.1" stroke="#444" stroke-width="1.3"/>
<line x1="565.5" y1="1749.3" x2="565.5" y2="1754.3" stroke="#444" stroke-width="1.3"/>
<line x1="602.9" y1="1041.9" x2="602.9" y2="1052.9" stroke="#444" stroke-width="1.3"/>
<line x1="603.3" y1="1749.2" x2="603.3" y2="1761.2" stroke="#444" stroke-width="1.3"/>
<text x="603.3" y="1782" font-size="15" text-anchor="middle" font-weight="bold" letter-spacing="0.3" fill="#404040">12</text>
<line x1="640.7" y1="1047.8" x2="640.7" y2="1052.8" stroke="#444" stroke-width="1.3"/>
<line x1="641.1" y1="1749" x2="641.1" y2="1754" stroke="#444" stroke-width="1.3"/>
<line x1="678.5" y1="1041.6" x2="678.5" y2="1052.6" stroke="#444" stroke-width="1.3"/>
<line x1="678.8" y1="1748.9" x2="678.8" y2="1760.9" stroke="#444" stroke-width="1.3"/>
<text x="678.9" y="1781.7" font-size="15" text-anchor="middle" font-weight="bold" letter-spacing="0.3" fill="#404040">14</text>
<line x1="716.3" y1="1047.5" x2="716.3" y2="1052.5" stroke="#444" stroke-width="1.3"/>
<line x1="716.6" y1="1748.7" x2="716.6" y2="1753.7" stroke="#444" stroke-width="1.3"/>
<line x1="754" y1="1041.4" x2="754" y2="1052.4" stroke="#444" stroke-width="1.3"/>
<line x1="754.4" y1="1748.6" x2="754.4" y2="1760.6" stroke="#444" stroke-width="1.3"/>
<text x="754.4" y="1781.4" font-size="15" text-anchor="middle" font-weight="bold" letter-spacing="0.3" fill="#404040">16</text>
<line x1="791.8" y1="1047.2" x2="791.8" y2="1052.2" stroke="#444" stroke-width="1.3"/>
<line x1="792.2" y1="1748.4" x2="792.2" y2="1753.4" stroke="#444" stroke-width="1.3"/>
<line x1="829.6" y1="1041.1" x2="829.6" y2="1052.1" stroke="#444" stroke-width="1.3"/>
<line x1="829.9" y1="1748.3" x2="830" y2="1760.3" stroke="#444" stroke-width="1.3"/>
<text x="830" y="1781.1" font-size="15" text-anchor="middle" font-weight="bold" letter-spacing="0.3" fill="#404040">18</text>
<line x1="867.4" y1="1046.9" x2="867.4" y2="1051.9" stroke="#444" stroke-width="1.3"/>
<line x1="867.7" y1="1748.2" x2="867.7" y2="1753.2" stroke="#444" stroke-width="1.3"/>
<line x1="905.1" y1="1040.8" x2="905.1" y2="1051.8" stroke="#444" stroke-width="1.3"/>
<line x1="905.5" y1="1748" x2="905.5" y2="1760" stroke="#444" stroke-width="1.3"/>
<text x="905.5" y="1780.8" font-size="15" text-anchor="middle" font-weight="bold" letter-spacing="0.3" fill="#404040">20</text>
<line x1="942.9" y1="1046.6" x2="942.9" y2="1051.6" stroke="#444" stroke-width="1.3"/>
<line x1="943.3" y1="1747.9" x2="943.3" y2="1752.9" stroke="#444" stroke-width="1.3"/>
<line x1="980.7" y1="1040.5" x2="980.7" y2="1051.5" stroke="#444" stroke-width="1.3"/>
<line x1="981.1" y1="1747.7" x2="981.1" y2="1759.7" stroke="#444" stroke-width="1.3"/>
<text x="981.1" y="1780.5" font-size="15" text-anchor="middle" font-weight="bold" letter-spacing="0.3" fill="#404040">22</text>
<line x1="1018.5" y1="1046.4" x2="1018.5" y2="1051.4" stroke="#444" stroke-width="1.3"/>
<line x1="1018.8" y1="1747.6" x2="1018.8" y2="1752.6" stroke="#444" stroke-width="1.3"/>
<text x="1056.6" y="1780.3" font-size="15" text-anchor="middle" font-weight="bold" letter-spacing="0.3" fill="#404040">24</text>
<text x="488" y="1032.4" font-size="17" text-anchor="start" font-weight="normal" letter-spacing="1.3" fill="#404040" stroke="#404040" stroke-width="0.35">Parameter: Equatorial electron density (log10(m-3))</text>
<text x="146.6" y="999.6" font-size="19.5" text-anchor="start" font-weight="normal" letter-spacing="1.6" fill="#404040" stroke="#404040" stroke-width="0.3">(b)</text>
<text x="539.3" y="1818.4" font-size="26" text-anchor="start" font-weight="normal" letter-spacing="1.8" fill="#404040" stroke="#404040" stroke-width="0.4">Local time</text>
<text x="93.3" y="1404.5" font-size="26" text-anchor="middle" font-weight="normal" letter-spacing="1.7" fill="#404040" transform="rotate(-90 93.3 1404.5)" stroke="#404040" stroke-width="0.4">L value</text>
<text x="1089.7" y="1068.1" font-size="17" text-anchor="start" font-weight="normal" letter-spacing="1.5" fill="#404040" stroke="#404040" stroke-width="0.4">runcode eq10</text>
<text x="1089.8" y="1104.5" font-size="17" text-anchor="start" font-weight="normal" letter-spacing="1.5" fill="#404040" stroke="#404040" stroke-width="0.4">Day 82</text>
<text x="1089.8" y="1140.9" font-size="17" text-anchor="start" font-weight="normal" letter-spacing="1.5" fill="#404040" stroke="#404040" stroke-width="0.4">f10.7 165.0</text>
<text x="1089.8" y="1177.3" font-size="17" text-anchor="start" font-weight="normal" letter-spacing="1.5" fill="#404040" stroke="#404040" stroke-width="0.4">eq_ne</text>
<text x="1089.8" y="1213.7" font-size="17" text-anchor="start" font-weight="normal" letter-spacing="1.5" fill="#404040" stroke="#404040" stroke-width="0.4">12:12 UT</text>
<polygon points="1073.9,1361.1 1108.4,1360.9 1108.4,1377.9 1073.9,1378.1" fill="#e8648c" stroke="#3a3a3a" stroke-width="1.6"/>
<text x="1123.4" y="1373.9" font-size="12.5" text-anchor="start" font-weight="normal" letter-spacing="0.9" fill="#404040" stroke="#404040" stroke-width="0.5">ABOVE</text>
<text x="1237.3" y="1373.4" font-size="12.5" text-anchor="end" font-weight="normal" letter-spacing="0.9" fill="#404040" stroke="#404040" stroke-width="0.5">10.70</text>
<polygon points="1073.9,1381.6 1108.4,1381.5 1108.4,1398.5 1073.9,1398.6" fill="#e85c7c" stroke="#3a3a3a" stroke-width="1.6"/>
<text x="1179.9" y="1394.2" font-size="12.5" text-anchor="end" font-weight="normal" letter-spacing="0.9" fill="#404040" stroke="#404040" stroke-width="0.5">10.60 -</text>
<text x="1237.4" y="1394" font-size="12.5" text-anchor="end" font-weight="normal" letter-spacing="0.9" fill="#404040" stroke="#404040" stroke-width="0.5">10.70</text>
<polygon points="1073.9,1402.2 1108.4,1402 1108.4,1419 1073.9,1419.2" fill="#e85a70" stroke="#3a3a3a" stroke-width="1.6"/>
<text x="1179.9" y="1414.8" font-size="12.5" text-anchor="end" font-weight="normal" letter-spacing="0.9" fill="#404040" stroke="#404040" stroke-width="0.5">10.50 -</text>
<text x="1237.4" y="1414.6" font-size="12.5" text-anchor="end" font-weight="normal" letter-spacing="0.9" fill="#404040" stroke="#404040" stroke-width="0.5">10.60</text>
<polygon points="1073.9,1422.7 1108.4,1422.6 1108.4,1439.6 1073.9,1439.7" fill="#e25a66" stroke="#3a3a3a" stroke-width="1.6"/>
<text x="1179.9" y="1435.3" font-size="12.5" text-anchor="end" font-weight="normal" letter-spacing="0.9" fill="#404040" stroke="#404040" stroke-width="0.5">10.40 -</text>
<text x="1237.4" y="1435.1" font-size="12.5" text-anchor="end" font-weight="normal" letter-spacing="0.9" fill="#404040" stroke="#404040" stroke-width="0.5">10.50</text>
<polygon points="1073.9,1443.3 1108.4,1443.1 1108.4,1460.2 1074,1460.3" fill="#ea6a64" stroke="#3a3a3a" stroke-width="1.6"/>
<text x="1179.9" y="1455.9" font-size="12.5" text-anchor="end" font-weight="normal" letter-spacing="0.9" fill="#404040" stroke="#404040" stroke-width="0.5">10.30 -</text>
<text x="1237.4" y="1455.7" font-size="12.5" text-anchor="end" font-weight="normal" letter-spacing="0.9" fill="#404040" stroke="#404040" stroke-width="0.5">10.40</text>
<polygon points="1074,1463.8 1108.4,1463.7 1108.5,1480.7 1074,1480.8" fill="#ef8a66" stroke="#3a3a3a" stroke-width="1.6"/>
<text x="1179.9" y="1476.4" font-size="12.5" text-anchor="end" font-weight="normal" letter-spacing="0.9" fill="#404040" stroke="#404040" stroke-width="0.5">10.20 -</text>
<text x="1237.4" y="1476.2" font-size="12.5" text-anchor="end" font-weight="normal" letter-spacing="0.9" fill="#404040" stroke="#404040" stroke-width="0.5">10.30</text>
<polygon points="1074,1484.4 1108.5,1484.3 1108.5,1501.3 1074,1501.4" fill="#f4aa66" stroke="#3a3a3a" stroke-width="1.6"/>
<text x="1179.9" y="1497" font-size="12.5" text-anchor="end" font-weight="normal" letter-spacing="0.9" fill="#404040" stroke="#404040" stroke-width="0.5">10.10 -</text>
<text x="1237.4" y="1496.8" font-size="12.5" text-anchor="end" font-weight="normal" letter-spacing="0.9" fill="#404040" stroke="#404040" stroke-width="0.5">10.20</text>
<polygon points="1074,1504.9 1108.5,1504.8 1108.5,1521.8 1074,1522" fill="#f6f26e" stroke="#3a3a3a" stroke-width="1.6"/>
<text x="1179.9" y="1517.6" font-size="12.5" text-anchor="end" font-weight="normal" letter-spacing="0.9" fill="#404040" stroke="#404040" stroke-width="0.5">10.00 -</text>
<text x="1237.4" y="1517.3" font-size="12.5" text-anchor="end" font-weight="normal" letter-spacing="0.9" fill="#404040" stroke="#404040" stroke-width="0.5">10.10</text>
<polygon points="1074,1525.5 1108.5,1525.4 1108.5,1542.4 1074,1542.5" fill="#b8dc6c" stroke="#3a3a3a" stroke-width="1.6"/>
<text x="1180" y="1538.1" font-size="12.5" text-anchor="end" font-weight="normal" letter-spacing="0.9" fill="#404040" stroke="#404040" stroke-width="0.5">9.90 -</text>
<text x="1237.4" y="1537.9" font-size="12.5" text-anchor="end" font-weight="normal" letter-spacing="0.9" fill="#404040" stroke="#404040" stroke-width="0.5">10.00</text>
<polygon points="1074,1546.1 1108.5,1545.9 1108.5,1562.9 1074,1563.1" fill="#6cb060" stroke="#3a3a3a" stroke-width="1.6"/>
<text x="1180" y="1558.7" font-size="12.5" text-anchor="end" font-weight="normal" letter-spacing="0.9" fill="#404040" stroke="#404040" stroke-width="0.5">9.80 -</text>
<text x="1237.4" y="1558.4" font-size="12.5" text-anchor="end" font-weight="normal" letter-spacing="0.9" fill="#404040" stroke="#404040" stroke-width="0.5">9.90</text>
<polygon points="1074,1566.6 1108.5,1566.5 1108.5,1583.5 1074,1583.6" fill="#5a9c64" stroke="#3a3a3a" stroke-width="1.6"/>
<text x="1180" y="1579.2" font-size="12.5" text-anchor="end" font-weight="normal" letter-spacing="0.9" fill="#404040" stroke="#404040" stroke-width="0.5">9.70 -</text>
<text x="1237.5" y="1579" font-size="12.5" text-anchor="end" font-weight="normal" letter-spacing="0.9" fill="#404040" stroke="#404040" stroke-width="0.5">9.80</text>
<polygon points="1074,1587.2 1108.5,1587 1108.5,1604.1 1074,1604.2" fill="#4e8c64" stroke="#3a3a3a" stroke-width="1.6"/>
<text x="1180" y="1599.8" font-size="12.5" text-anchor="end" font-weight="normal" letter-spacing="0.9" fill="#404040" stroke="#404040" stroke-width="0.5">9.60 -</text>
<text x="1237.5" y="1599.6" font-size="12.5" text-anchor="end" font-weight="normal" letter-spacing="0.9" fill="#404040" stroke="#404040" stroke-width="0.5">9.70</text>
<polygon points="1074,1607.7 1108.5,1607.6 1108.5,1624.6 1074,1624.7" fill="#4e9478" stroke="#3a3a3a" stroke-width="1.6"/>
<text x="1180" y="1620.3" font-size="12.5" text-anchor="end" font-weight="normal" letter-spacing="0.9" fill="#404040" stroke="#404040" stroke-width="0.5">9.50 -</text>
<text x="1237.5" y="1620.1" font-size="12.5" text-anchor="end" font-weight="normal" letter-spacing="0.9" fill="#404040" stroke="#404040" stroke-width="0.5">9.60</text>
<polygon points="1074,1628.3 1108.5,1628.2 1108.5,1645.2 1074.1,1645.3" fill="#4a9898" stroke="#3a3a3a" stroke-width="1.6"/>
<text x="1180" y="1640.9" font-size="12.5" text-anchor="end" font-weight="normal" letter-spacing="0.9" fill="#404040" stroke="#404040" stroke-width="0.5">9.40 -</text>
<text x="1237.5" y="1640.7" font-size="12.5" text-anchor="end" font-weight="normal" letter-spacing="0.9" fill="#404040" stroke="#404040" stroke-width="0.5">9.50</text>
<polygon points="1074.1,1648.8 1108.5,1648.7 1108.5,1665.7 1074.1,1665.9" fill="#4c9cc8" stroke="#3a3a3a" stroke-width="1.6"/>
<text x="1180" y="1661.5" font-size="12.5" text-anchor="end" font-weight="normal" letter-spacing="0.9" fill="#404040" stroke="#404040" stroke-width="0.5">9.30 -</text>
<text x="1237.5" y="1661.2" font-size="12.5" text-anchor="end" font-weight="normal" letter-spacing="0.9" fill="#404040" stroke="#404040" stroke-width="0.5">9.40</text>
<polygon points="1074.1,1669.4 1108.6,1669.3 1108.6,1686.3 1074.1,1686.4" fill="#5aa4ea" stroke="#3a3a3a" stroke-width="1.6"/>
<text x="1180" y="1682" font-size="12.5" text-anchor="end" font-weight="normal" letter-spacing="0.9" fill="#404040" stroke="#404040" stroke-width="0.5">9.20 -</text>
<text x="1237.5" y="1681.8" font-size="12.5" text-anchor="end" font-weight="normal" letter-spacing="0.9" fill="#404040" stroke="#404040" stroke-width="0.5">9.30</text>
<polygon points="1074.1,1690 1108.6,1689.8 1108.6,1706.8 1074.1,1707" fill="#5288dc" stroke="#3a3a3a" stroke-width="1.6"/>
<text x="1180" y="1702.6" font-size="12.5" text-anchor="end" font-weight="normal" letter-spacing="0.9" fill="#404040" stroke="#404040" stroke-width="0.5">9.10 -</text>
<text x="1237.5" y="1702.3" font-size="12.5" text-anchor="end" font-weight="normal" letter-spacing="0.9" fill="#404040" stroke="#404040" stroke-width="0.5">9.20</text>
<polygon points="1074.1,1710.5 1108.6,1710.4 1108.6,1727.4 1074.1,1727.5" fill="#4c74c8" stroke="#3a3a3a" stroke-width="1.6"/>
<text x="1180.1" y="1723.1" font-size="12.5" text-anchor="end" font-weight="normal" letter-spacing="0.9" fill="#404040" stroke="#404040" stroke-width="0.5">9.00 -</text>
<text x="1237.5" y="1722.9" font-size="12.5" text-anchor="end" font-weight="normal" letter-spacing="0.9" fill="#404040" stroke="#404040" stroke-width="0.5">9.10</text>
<polygon points="1074.1,1731.1 1108.6,1730.9 1108.6,1747.9 1074.1,1748.1" fill="#4c64b0" stroke="#3a3a3a" stroke-width="1.6"/>
<text x="1123.6" y="1743.9" font-size="12.5" text-anchor="start" font-weight="normal" letter-spacing="0.9" fill="#404040" stroke="#404040" stroke-width="0.5">BELOW</text>
<text x="1237.5" y="1743.5" font-size="12.5" text-anchor="end" font-weight="normal" letter-spacing="0.9" fill="#404040" stroke="#404040" stroke-width="0.5">9.00</text>
</svg></body></html>
